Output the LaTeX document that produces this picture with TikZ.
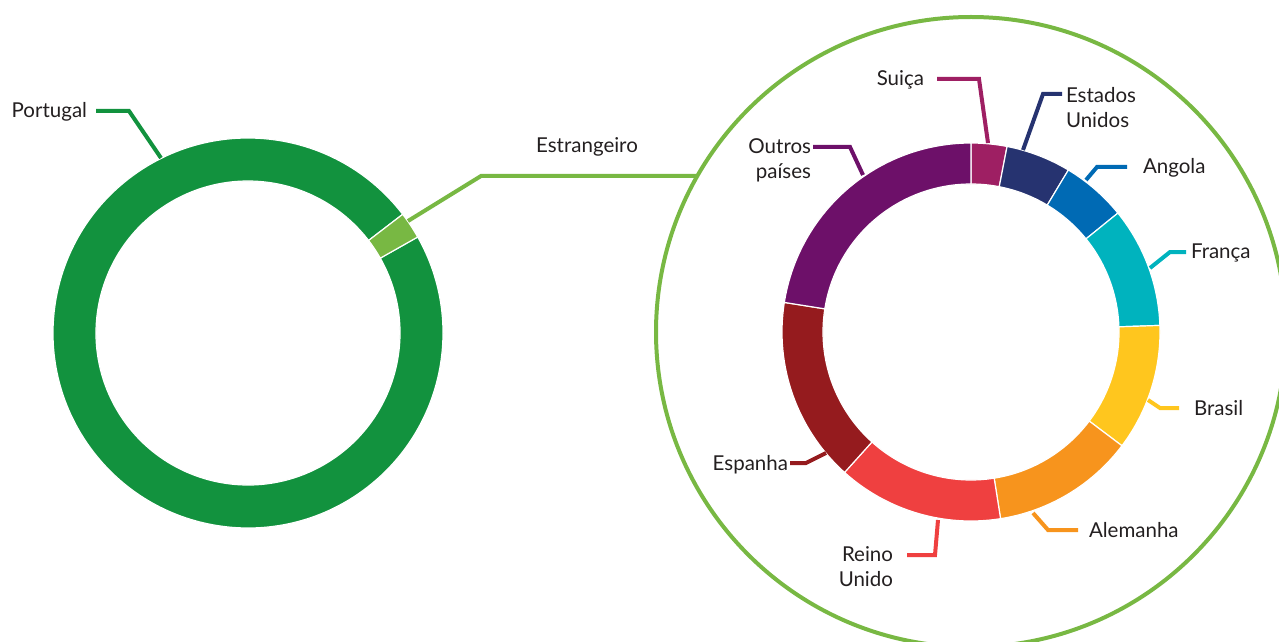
\documentclass[tikz,border=0pt]{standalone}
\usepackage{fontspec}
\setmainfont{Lato}
\usetikzlibrary{positioning}

\definecolor{txtgray}{HTML}{231F20}
\definecolor{portugal}{HTML}{12923E}
\definecolor{estrangeiro}{HTML}{78B843}
\definecolor{suica}{HTML}{9E1F63}
\definecolor{eua}{HTML}{263370}
\definecolor{angola}{HTML}{006AB4}
\definecolor{franca}{HTML}{00B3BE}
\definecolor{brasil}{HTML}{FFC61E}
\definecolor{alemanha}{HTML}{F7941D}
\definecolor{reino}{HTML}{EF4040}
\definecolor{espanha}{HTML}{951B1E}
\definecolor{outros}{HTML}{6D1069}

\tikzset{
	lbl/.style={font=\fontsize{20.5}{25}\selectfont, text=txtgray, inner sep=0pt},
	lblone/.style={lbl, text height=18pt, text depth=4pt},
	conn/.style={line width=4pt},
}
% colour, start angle, end angle, outer radius, inner radius
\newcommand{\ringpart}[5]{\filldraw[fill=#1, draw=white, line width=1.2pt] (#2:#4) arc[start angle=#2, end angle=#3, radius=#4] -- (#3:#5) arc[start angle=#3, end angle=#2, radius=#5] -- cycle;}

\begin{document}
\begin{tikzpicture}[x=1pt,y=1pt]
	\useasboundingbox (0,0) rectangle (1279,641);

	% Portugal / Estrangeiro
	\begin{scope}[shift={(248,308)}]
		\ringpart{portugal}{37.5}{389.5}{195}{152}
		\ringpart{estrangeiro}{29.5}{37.5}{195}{152}
	\end{scope}
	\draw [estrangeiro, line width=4pt] (971,309) circle [radius=315];

	% countries
	\begin{scope}[shift={(971,309)}]
		\ringpart{suica}{90}{79}{189}{148}
		\ringpart{eua}{79}{59}{189}{148}
		\ringpart{angola}{59}{39}{189}{148}
		\ringpart{franca}{39}{2}{189}{148}
		\ringpart{brasil}{2}{-37}{189}{148}
		\ringpart{alemanha}{-37}{-81}{189}{148}
		\ringpart{reino}{-81}{-132}{189}{148}
		\ringpart{espanha}{-132}{-189}{189}{148}
		\ringpart{outros}{-189}{-270}{189}{148}
	\end{scope}

	\coordinate (rPortugal) at (161,483);
	\coordinate (rEstr) at (408,420);
	\coordinate (cEstr) at (697,465);
	\coordinate (rSuica) at (988,498);
	\coordinate (rEua) at (1023,491);
	\coordinate (rAngola) at (1086,461);
	\coordinate (rFranca) at (1150,373);
	\coordinate (rBrasil) at (1148,241);
	\coordinate (rAlemanha) at (1033,128);
	\coordinate (rReino) at (938,121);
	\coordinate (rEspanha) at (826,188);
	\coordinate (rOutros) at (863,466);

	\node [lblone, anchor=east, outer xsep=9pt] (tPortugal) at (96,530) {Portugal};
	\node [lblone] (tEstr) at (587,495) {Estrangeiro};
	\node [lblone, anchor=east, outer xsep=13pt] (tSuica) at (937,562) {Suiça};
	\node [lbl, anchor=west, outer xsep=4pt, align=left] (tEua) at (1062,533.5) {Estados\\Unidos};
	\node [lblone, anchor=west, outer xsep=16pt] (tAngola) at (1127,474) {Angola};
	\node [lblone, anchor=west, outer xsep=5pt] (tFranca) at (1186,389) {França};
	\node [lblone, anchor=west, outer xsep=15pt] (tBrasil) at (1179,233) {Brasil};
	\node [lblone, anchor=west, outer xsep=11pt] (tAlemanha) at (1078,111) {Alemanha};
	\node [lbl, anchor=east, outer xsep=14pt, align=right] (tReino) at (907,74.5) {Reino\\Unido};
	\node [lblone, anchor=east, outer xsep=2pt] (tEspanha) at (790,178) {Espanha};
	\node [lbl, anchor=east, outer xsep=2pt, align=right] (tOutros) at (813,480.5) {Outros\\países};

	\draw [conn, portugal] (tPortugal.east) -- (129,530) -- (rPortugal);
	\draw [conn, estrangeiro] (rEstr) -- (481,465) -- (cEstr);
	\draw [conn, suica] (tSuica.east) -- (979,562) -- (rSuica);
	\draw [conn, eua] ([yshift=13.5pt]tEua.west) -- (1043,547) -- (rEua);
	\draw [conn, angola] (tAngola.west) -- (1097,474) -- (rAngola);
	\draw [conn, franca] (tFranca.west) -- (1170,389) -- (rFranca);
	\draw [conn, brasil] (tBrasil.west) -- (1160,233) -- (rBrasil);
	\draw [conn, alemanha] (tAlemanha.west) -- (1048,111) -- (rAlemanha);
	\draw [conn, reino] ([yshift=11.5pt]tReino.east) -- (935,86) -- (rReino);
	\draw [conn, espanha] (tEspanha.east) -- (806,178) -- (rEspanha);
	\draw [conn, outros] ([yshift=13.5pt]tOutros.east) -- (850,494) -- (rOutros);
\end{tikzpicture}
\end{document}
